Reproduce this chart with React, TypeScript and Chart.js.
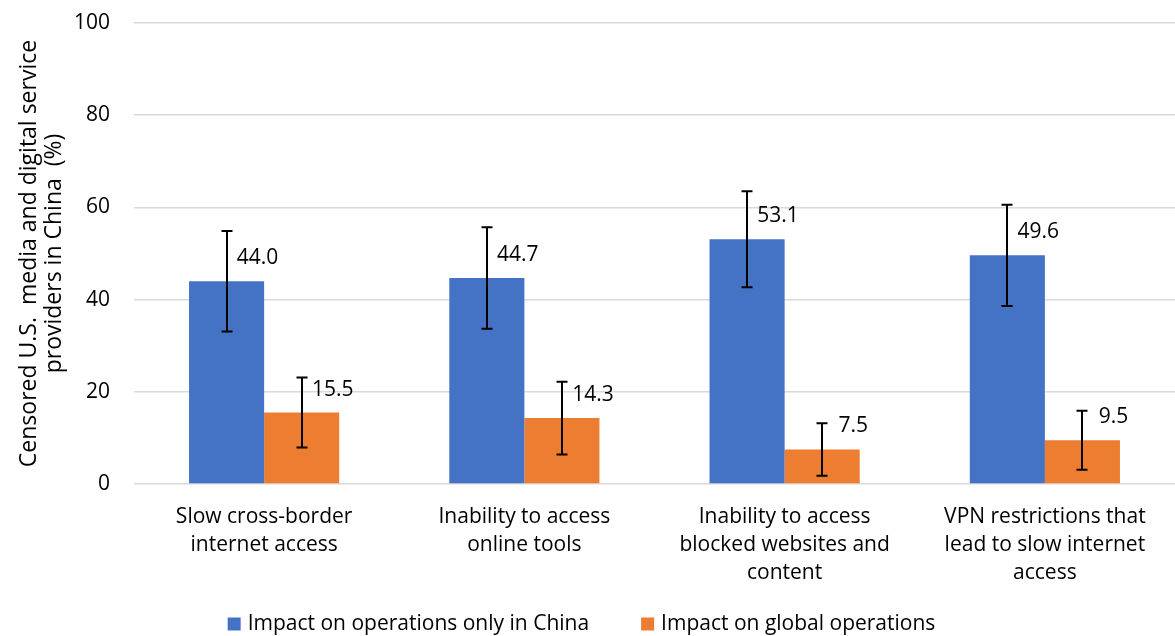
import React, { useEffect, useRef } from "react";
import { Chart, registerables } from "chart.js";

Chart.register(...registerables);

const categories: string[][] = [
  ["Slow cross-border", "internet access"],
  ["Inability to access", "online tools"],
  ["Inability to access", "blocked websites and", "content"],
  ["VPN restrictions that", "lead to slow internet", "access"],
];
const seriesNames = ["Impact on operations only in China", "Impact on global operations"];
const chinaValues = [44.0, 44.7, 53.1, 49.6];
const globalValues = [15.5, 14.3, 7.5, 9.5];
const chinaErrors = [10.9, 11.0, 10.4, 11.0];
const globalErrors = [7.6, 7.9, 5.7, 6.4];
const yTitle = ["Censored U.S.  media and digital service", "providers in China  (%)"];
const yMin = 0;
const yMax = 100;
const yStep = 20;

const FONT = "'Open Sans', sans-serif";
const FS = 21;
const BLUE = "#4472C4";
const ORANGE = "#ED7D31";

const errorBarPlugin = {
  id: "errorBars",
  afterDatasetsDraw(chart: any) {
    const ctx = chart.ctx;
    const yScale = chart.scales.y;
    ctx.save();
    ctx.strokeStyle = "#000";
    ctx.lineWidth = 2;
    chart.data.datasets.forEach((ds: any, di: number) => {
      const meta = chart.getDatasetMeta(di);
      meta.data.forEach((bar: any, i: number) => {
        const v = ds.data[i];
        const e = ds.errors[i];
        const x = Math.round(bar.x);
        const yTop = yScale.getPixelForValue(v + e);
        const yBot = yScale.getPixelForValue(v - e);
        const cap = 5.5;
        ctx.beginPath();
        ctx.moveTo(x, yTop);
        ctx.lineTo(x, yBot);
        ctx.moveTo(x - cap, yTop);
        ctx.lineTo(x + cap, yTop);
        ctx.moveTo(x - cap, yBot);
        ctx.lineTo(x + cap, yBot);
        ctx.stroke();
      });
    });
    ctx.restore();
  },
  afterDraw(chart: any) {
    const ctx = chart.ctx;
    ctx.save();
    // data labels
    ctx.font = `${FS}px ${FONT}`;
    ctx.fillStyle = "#000";
    ctx.textAlign = "center";
    ctx.textBaseline = "middle";
    chart.data.datasets.forEach((ds: any, di: number) => {
      const meta = chart.getDatasetMeta(di);
      meta.data.forEach((bar: any, i: number) => {
        ctx.fillText(ds.data[i].toFixed(1), bar.x + 31, bar.y - 23);
      });
    });
    // legend
    const box = 13;
    const gapText = 7;
    const gapItem = 52;
    const widths = chart.data.datasets.map((ds: any) => ctx.measureText(ds.label).width);
    const total = widths.reduce((a: number, w: number) => a + box + gapText + w, 0) + gapItem * (widths.length - 1);
    let x = chart.width / 2 - 6 - total / 2;
    const cy = 624;
    ctx.textAlign = "left";
    chart.data.datasets.forEach((ds: any, di: number) => {
      ctx.fillStyle = ds.backgroundColor;
      ctx.fillRect(x, cy - box / 2, box, box);
      ctx.fillStyle = "#000";
      ctx.fillText(ds.label, x + box + gapText, cy);
      x += box + gapText + widths[di] + gapItem;
    });
    ctx.restore();
  },
};

export default function App() {
  const ref = useRef<HTMLCanvasElement>(null);
  useEffect(() => {
    if (!ref.current) return;
    const chart = new Chart(ref.current, {
      type: "bar",
      data: {
        labels: categories,
        datasets: [
          { label: seriesNames[0], data: chinaValues, errors: chinaErrors, backgroundColor: BLUE } as any,
          { label: seriesNames[1], data: globalValues, errors: globalErrors, backgroundColor: ORANGE } as any,
        ],
      },
      options: {
        animation: false,
        responsive: false,
        maintainAspectRatio: false,
        layout: { padding: { top: 23, left: 0, right: 0, bottom: 0 } },
        datasets: { bar: { categoryPercentage: 0.577, barPercentage: 1 } },
        plugins: { legend: { display: false }, tooltip: { enabled: false } },
        scales: {
          x: {
            grid: { display: false, drawTicks: false },
            border: { display: false },
            ticks: { color: "#000", font: { family: FONT, size: FS, lineHeight: 1.33 }, padding: 19, maxRotation: 0, autoSkip: false },
            afterFit(scale: any) { scale.height = 636 - 484; scale.paddingLeft = 0; scale.paddingRight = 0; },
          },
          y: {
            min: yMin,
            max: yMax,
            ticks: { stepSize: yStep, color: "#000", font: { family: FONT, size: FS }, padding: 24 },
            grid: { color: "#d9d9d9", lineWidth: 1.5, drawTicks: false },
            border: { display: false },
            title: { display: true, text: yTitle, color: "#000", font: { family: FONT, size: 23, lineHeight: 1.1 }, padding: { top: 17, bottom: 0 } },
            afterFit(scale: any) { scale.width = 134; scale.paddingTop = 0; scale.paddingBottom = 0; },
          },
        },
      },
      plugins: [errorBarPlugin],
    });
    return () => chart.destroy();
  }, []);
  return (
    <div style={{ position: "fixed", left: 0, top: 0, width: 1175, height: 636, background: "#fff" }}>
      <canvas ref={ref} width={1175} height={636} style={{ width: 1175, height: 636 }} />
    </div>
  );
}
